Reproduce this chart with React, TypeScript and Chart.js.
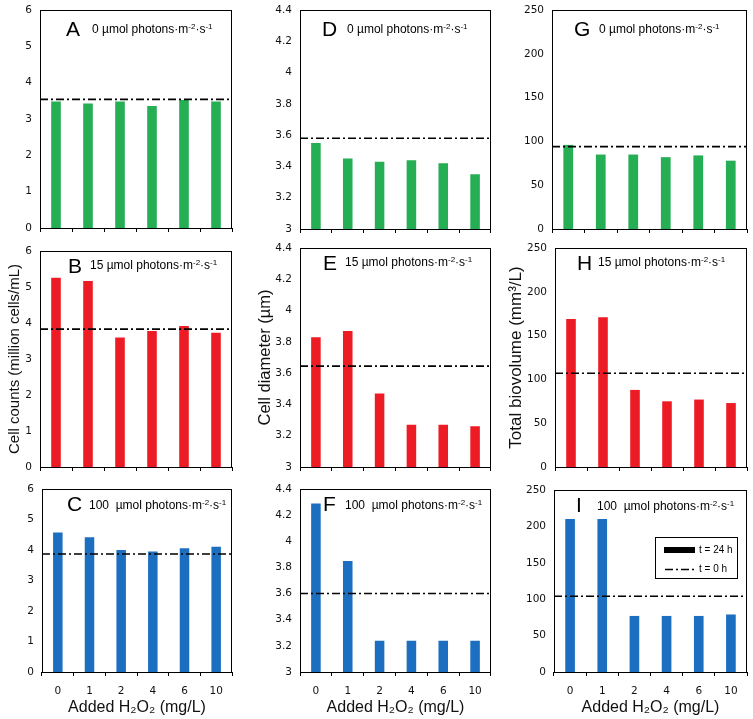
import React, { useEffect, useRef } from 'react';
import { Chart, registerables } from 'chart.js';

Chart.register(...registerables);

// ---------- data ----------
const h2o2Doses = ['0', '1', '2', '4', '6', '10'];

const countsDark = [3.48, 3.43, 3.48, 3.36, 3.52, 3.48];
const countsLow = [5.26, 5.17, 3.6, 3.78, 3.92, 3.73];
const countsHigh = [4.57, 4.42, 4.0, 3.95, 4.06, 4.11];

const diameterDark = [3.55, 3.45, 3.43, 3.44, 3.42, 3.35];
const diameterLow = [3.83, 3.87, 3.47, 3.27, 3.27, 3.26];
const diameterHigh = [4.29, 3.85, 3.24, 3.24, 3.24, 3.24];

const biovolumeDark = [96, 85, 85, 82, 84, 78];
const biovolumeLow = [169, 171, 88, 75, 77, 73];
const biovolumeHigh = [210, 210, 77, 77, 77, 79];

const baselineCounts = [3.54, 3.83, 3.87];
const baselineDiameter = [3.58, 3.645, 3.6];
const baselineBiovolume = [94, 107, 104];

const countTicks = [0, 1, 2, 3, 4, 5, 6];
const diameterTicks = [3, 3.2, 3.4, 3.6, 3.8, 4, 4.2, 4.4];
const biovolumeTicks = [0, 50, 100, 150, 200, 250];

const panelLetters = ['A', 'B', 'C', 'D', 'E', 'F', 'G', 'H', 'I'];
const lightLevels = ['0', '15', '100'];
const yTitles = ['Cell counts (million cells/mL)', 'Cell diameter (µm)', 'Total biovolume (mm³/L)'];
const xTitle = 'Added H₂O₂ (mg/L)';
const seriesLabels = ['t = 24 h', 't = 0 h'];

// ---------- styles / layout ----------
const rowColors = ['#25AE53', '#ED1C24', '#1B6EC0'];
const ARIAL = "'Liberation Sans', Arial, sans-serif";
const TICKFONT = "'DejaVu Sans', Verdana, sans-serif";
const yTitleSizes = [15, 16.5, 17];

// chart areas [left, top, right, bottom] by column then row
const areas = [
  [[40, 10, 232, 228], [40, 251, 232, 467], [42, 489, 232, 672]],
  [[300, 10, 491, 229], [300, 248, 491, 467], [300, 489, 491, 672]],
  [[552, 10, 747, 229], [555, 248, 747, 467], [554, 490, 747, 672]],
];
const canvasLefts = [0, 250, 500];
const letterDx = [[26, 28, 25], [22, 23, 23], [22, 22, 22]];
const textDx = [[52, 50, 47], [47, 45, 45], [47, 43, 43]];
const letterDy = [26, 22, 22];
const textDy = [23, 18, 20];

type PanelProps = {
  col: number;
  row: number;
  values: number[];
  baseline: number;
  ticks: number[];
};

function Panel({ col, row, values, baseline, ticks }: PanelProps) {
  const ref = useRef<HTMLCanvasElement>(null);
  const [l, t, r, b] = areas[col][row];
  const padT = 7;
  const padR = 4;
  const isBottom = row === 2;
  const xH = isBottom ? 47 : 6;
  const cLeft = col === 0 ? canvasLefts[0] + (l - areas[0][0][0]) : canvasLefts[col];
  const yW = l - cLeft;
  const width = r - l + yW + padR;
  const height = b - t + padT + xH;
  const idx = col * 3 + row;

  useEffect(() => {
    const ctxCanvas = ref.current;
    if (!ctxCanvas) return;

    const panelPlugin = {
      id: 'panelDecor',
      afterDraw(chart: any) {
        const { ctx, chartArea } = chart;
        const { left, top, right, bottom } = chartArea;
        ctx.save();
        ctx.strokeStyle = '#000';
        ctx.lineWidth = 1;
        ctx.strokeRect(Math.round(left) + 0.5, Math.round(top) + 0.5, Math.round(right - left) - 1, Math.round(bottom - top));
        // letter
        ctx.fillStyle = '#000';
        ctx.textBaseline = 'alphabetic';
        ctx.textAlign = 'left';
        ctx.font = `21px ${ARIAL}`;
        ctx.fillText(panelLetters[idx], left + letterDx[col][row], top + letterDy[row]);
        // light level text
        const segs: { s: string; sup?: boolean }[] = [
          { s: lightLevels[row] + (row === 2 ? '  ' : ' ') + 'µmol photons·m' },
          { s: '-2', sup: true },
          { s: '·s' },
          { s: '-1', sup: true },
        ];
        let x = left + textDx[col][row];
        const y = top + textDy[row];
        for (const seg of segs) {
          ctx.font = seg.sup ? `8px ${ARIAL}` : `12px ${ARIAL}`;
          ctx.fillText(seg.s, x, seg.sup ? y - 4 : y);
          x += ctx.measureText(seg.s).width;
        }
        // legend in panel I
        if (idx === 8) {
          const bx = right - 92;
          const by = top + 47;
          ctx.lineWidth = 1;
          ctx.strokeRect(Math.round(bx) + 0.5, Math.round(by) + 0.5, 82, 41);
          const barDs = chart.data.datasets[0];
          const lineDs = chart.data.datasets[1];
          ctx.fillStyle = '#000';
          ctx.fillRect(right - 83, by + 10, 31, 6);
          ctx.beginPath();
          ctx.setLineDash(lineDs.borderDash);
          ctx.lineWidth = lineDs.borderWidth;
          ctx.moveTo(right - 82, by + 32.5);
          ctx.lineTo(right - 50, by + 32.5);
          ctx.stroke();
          ctx.setLineDash([]);
          ctx.font = `10px ${ARIAL}`;
          ctx.textBaseline = 'middle';
          ctx.fillText(barDs.label, right - 48, by + 13);
          ctx.fillText(lineDs.label, right - 48, by + 32.5);
        }
        ctx.restore();
      },
    };

    const chart = new Chart(ctxCanvas, {
      type: 'bar',
      data: {
        labels: h2o2Doses,
        datasets: [
          {
            type: 'bar',
            label: seriesLabels[0],
            data: values,
            backgroundColor: rowColors[row],
            borderWidth: 0,
            barPercentage: 0.3,
            categoryPercentage: 1,
            grouped: false,
            xAxisID: 'x',
            order: 2,
          } as any,
          {
            type: 'line',
            label: seriesLabels[1],
            data: [
              { x: 0, y: baseline },
              { x: 1, y: baseline },
            ],
            xAxisID: 'x2',
            borderColor: '#000',
            borderWidth: 1.6,
            borderDash: [8, 3, 2, 3],
            pointRadius: 0,
            fill: false,
            order: 0,
          } as any,
        ],
      },
      options: {
        animation: false,
        responsive: false,
        maintainAspectRatio: false,
        layout: { padding: { top: padT, right: padR, left: 0, bottom: 0 } },
        plugins: { legend: { display: false }, tooltip: { enabled: false } },
        scales: {
          x: {
            type: 'category',
            offset: true,
            grid: {
              display: true,
              offset: true,
              drawOnChartArea: false,
              drawTicks: true,
              tickLength: 4,
              color: '#000',
              lineWidth: 1,
            },
            border: { display: false },
            ticks: {
              display: isBottom,
              font: { family: TICKFONT, size: 10.5 },
              color: '#111',
              padding: 9,
              maxRotation: 0,
            },
            title: {
              display: isBottom,
              text: xTitle,
              font: { family: ARIAL, size: 16 },
              color: '#111',
              padding: { top: 0, bottom: 2 },
            },
            afterFit: (s: any) => {
              s.height = xH;
              s.paddingLeft = 0;
              s.paddingRight = 0;
            },
          },
          x2: {
            type: 'linear',
            display: false,
            min: 0,
            max: 1,
            offset: false,
            grid: { offset: false },
          },
          y: {
            min: ticks[0],
            max: ticks[ticks.length - 1],
            afterBuildTicks: (s: any) => {
              s.ticks = ticks.map((v) => ({ value: v }));
            },
            ticks: {
              font: { family: TICKFONT, size: 10.5 },
              color: '#111',
              padding: 8,
              callback: (v: any) => String(Math.round(Number(v) * 100) / 100),
            },
            grid: { display: false, drawTicks: false, tickLength: 0 },
            border: { display: false },
            title: {
              display: row === 1,
              text: yTitles[col],
              font: { family: ARIAL, size: yTitleSizes[col] },
              color: '#111',
              padding: { top: 6, bottom: 0 },
            },
            afterFit: (s: any) => {
              s.width = yW;
              s.paddingTop = 0;
              s.paddingBottom = 0;
            },
          },
        },
      } as any,
      plugins: [panelPlugin],
    });
    return () => chart.destroy();
  }, []);

  return (
    <canvas
      ref={ref}
      width={width}
      height={height}
      style={{ position: 'absolute', left: cLeft, top: t - padT, width, height }}
    />
  );
}

export default function App() {
  const cols = [
    { vals: [countsDark, countsLow, countsHigh], base: baselineCounts, ticks: countTicks },
    { vals: [diameterDark, diameterLow, diameterHigh], base: baselineDiameter, ticks: diameterTicks },
    { vals: [biovolumeDark, biovolumeLow, biovolumeHigh], base: baselineBiovolume, ticks: biovolumeTicks },
  ];
  return (
    <div style={{ position: 'fixed', left: 0, top: 0, width: 753, height: 719, background: '#fff', overflow: 'hidden' }}>
      {cols.map((c, ci) =>
        c.vals.map((v, ri) => (
          <Panel key={`${ci}-${ri}`} col={ci} row={ri} values={v} baseline={c.base[ri]} ticks={c.ticks} />
        ))
      )}
    </div>
  );
}
